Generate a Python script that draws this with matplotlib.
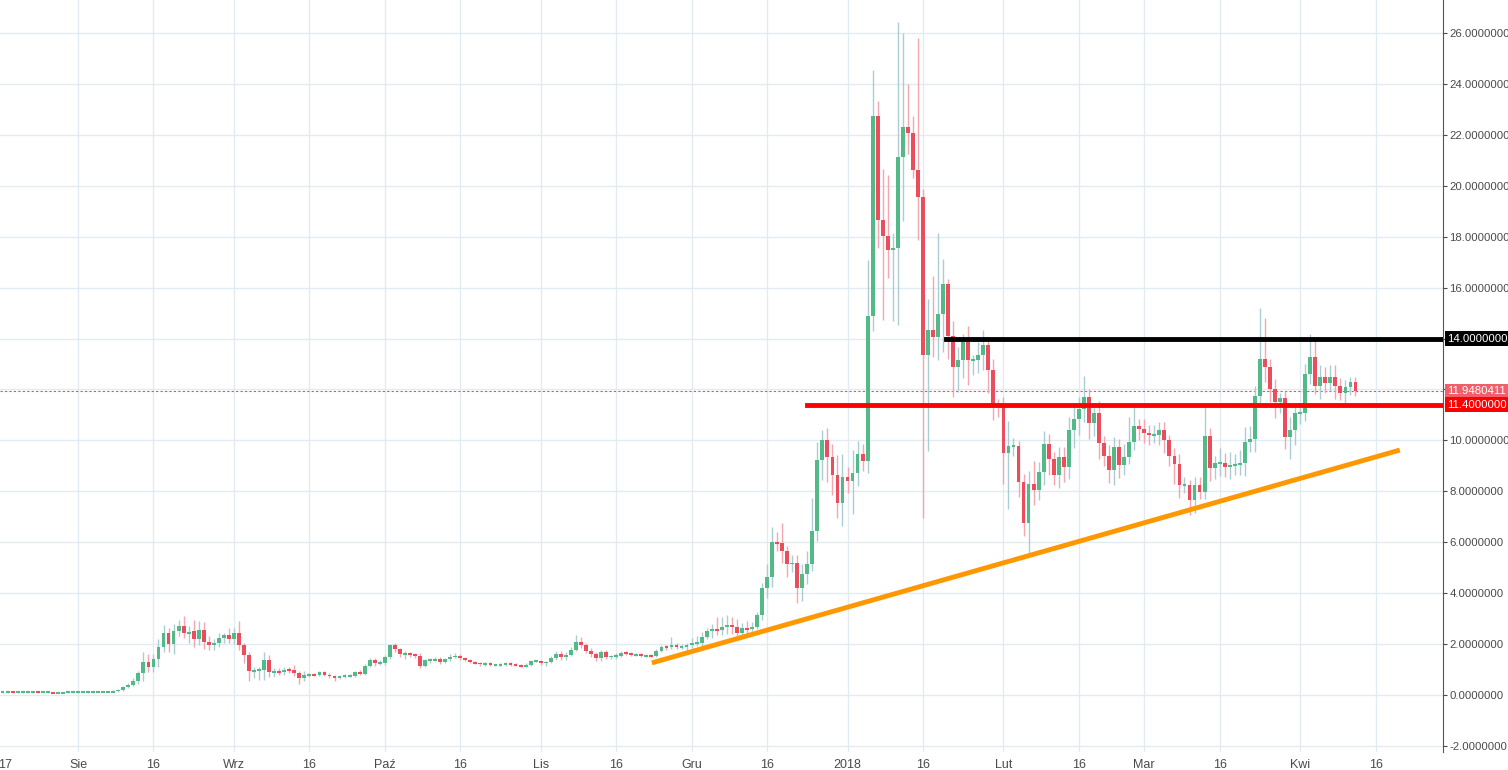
import matplotlib.pyplot as plt

plt.rcParams['font.family'] = ['Liberation Sans', 'DejaVu Sans']

# daily closes, day 0 = 2017-07-14
closes = [0.09, 0.1, 0.1, 0.1, 0.11, 0.1, 0.1, 0.1, 0.1, 0.11, 0.1, 0.1, 0.1, 0.09, 0.09,
          0.1, 0.1, 0.1, 0.1, 0.1, 0.1, 0.11, 0.12, 0.12, 0.13,
          0.15, 0.2, 0.3, 0.4, 0.55,
          0.86, 1.3, 1.1, 1.4, 1.9, 2.43, 2.0, 2.5, 2.7, 2.45, 2.5, 2.2, 2.55, 2.1, 1.95,
          2.05, 2.25, 2.35, 2.2, 2.45, 1.95,
          1.57, 0.95, 0.98, 1.0, 1.37, 0.9, 0.95, 0.9, 1.0, 0.98, 0.85, 0.65, 0.8, 0.8, 0.78,
          0.9, 0.8, 0.73, 0.66, 0.73, 0.76, 0.76, 0.9, 0.84, 1.15, 1.37, 1.24, 1.26, 1.48, 1.96,
          1.8, 1.6, 1.62, 1.6, 1.55, 1.15, 1.37, 1.37, 1.4, 1.3, 1.42, 1.5, 1.55, 1.44, 1.37,
          1.3, 1.26, 1.2, 1.24, 1.17, 1.17, 1.2, 1.24, 1.2, 1.17, 1.15, 1.19, 1.33, 1.33, 1.24,
          1.3, 1.44, 1.62, 1.48, 1.57, 1.77, 2.07, 1.96, 1.74, 1.6, 1.44, 1.67, 1.48, 1.53, 1.53,
          1.66, 1.63, 1.57, 1.6, 1.55, 1.55, 1.53, 1.72, 1.88, 1.87, 1.96, 1.9,
          1.9, 1.96, 2.03, 2.03, 2.29, 2.53, 2.58, 2.56, 2.68, 2.75, 2.68, 2.45, 2.62, 2.6, 2.68,
          3.14, 4.19, 4.65, 6.0, 5.95, 5.67, 5.13, 5.2, 4.21, 4.75, 5.15, 6.44, 9.23, 10.0, 9.36,
          8.64, 7.55, 8.57, 8.42, 8.71, 9.47, 9.2,
          14.89, 22.74, 18.66, 18.04, 17.48, 17.54, 21.12, 22.3, 22.06, 20.62, 19.57, 13.37,
          14.34, 14.07, 14.96, 16.14, 14.1, 12.9, 13.16, 13.88, 13.16, 13.16, 13.35, 13.75,
          12.78, 11.42, 11.4, 9.49, 9.78, 9.78, 8.38, 6.74, 8.28, 8.05, 8.75, 9.86, 9.26, 8.64, 9.36,
          8.97, 10.41, 10.83, 11.22, 11.72, 10.67, 11.06, 9.88, 9.4, 8.84, 9.75, 9.03, 9.36, 9.92,
          10.56, 10.43, 10.3, 10.2, 10.2, 10.41, 10.02, 9.39, 9.07, 8.25, 8.25, 7.65, 8.25, 7.99,
          10.17, 8.9, 9.1, 9.1, 8.97, 9.03, 9.05, 9.12, 9.94, 10.05, 11.75, 13.2, 12.9, 12.01,
          11.49, 11.65, 10.15, 10.41, 11.06, 11.06, 12.61, 13.29, 12.14, 12.48, 12.25, 12.48,
          12.14, 11.87, 12.08, 12.29, 11.948]

# upper / lower wick lengths beyond the body
wick_up = [0.02, 0.01, 0.02, 0.01, 0.02, 0.01, 0.02, 0.01, 0.02, 0.01, 0.02, 0.01,
           0.02, 0.01, 0.02, 0.01, 0.02, 0.01, 0.02, 0.01, 0.02, 0.01, 0.02, 0.02, 0.03,
           0.04, 0.05, 0.05, 0.08, 0.1,
           0.1, 0.4, 0.3, 0.2, 0.3, 0.3, 0.2, 0.3, 0.25, 0.4, 0.2, 0.45, 0.35, 0.3, 0.2,
           0.15, 0.2, 0.1, 0.3, 0.2, 0.45,
           0.1, 0.1, 0.1, 0.1, 0.3, 0.2, 0.1, 0.1, 0.1, 0.1, 0.2, 0.1, 0.15, 0.05, 0.05,
           0.05, 0.05, 0.05, 0.05, 0.05, 0.05, 0.05, 0.05, 0.1, 0.05, 0.1, 0.1, 0.1, 0.1, 0.05,
           0.1, 0.05, 0.1, 0.05, 0.05, 0.1, 0.05, 0.1, 0.1, 0.1, 0.05, 0.1, 0.1, 0.05, 0.05,
           0.05, 0.05, 0.05, 0.05, 0.05, 0.05, 0.05, 0.05, 0.05, 0.05, 0.05, 0.05, 0.05, 0.05, 0.05,
           0.05, 0.1, 0.1, 0.1, 0.1, 0.1, 0.3, 0.2, 0.1, 0.1, 0.1, 0.1, 0.1, 0.05, 0.1,
           0.05, 0.05, 0.05, 0.05, 0.05, 0.05, 0.05, 0.1, 0.1, 0.1, 0.3, 0.1,
           0.1, 0.1, 0.2, 0.3, 0.2, 0.1, 0.2, 0.5, 0.4, 0.4, 0.3, 0.3, 0.2, 0.3, 0.2,
           0.1, 0.2, 0.5, 0.6, 0.4, 0.8, 0.2, 0.3, 0.3, 0.4, 0.5, 1.3, 0.7, 0.4, 0.5,
           0.5, 0.8, 0.9, 0.4, 0.9, 0.5, 0.4,
           2.2, 1.8, 0.6, 2.0, 2.4, 0.6, 5.3, 3.7, 1.7, 0.7, 5.2, 0.3,
           1.2, 2.1, 3.2, 1.0, 0.2, 0.6, 0.5, 0.3, 0.6, 0.2, 0.5, 0.6,
           0.3, 0.4, 0.2, 0.3, 1.0, 0.3, 0.2, 0.3, 0.5, 0.9, 0.4, 0.5, 0.4, 0.3, 0.4,
           0.4, 0.5, 0.6, 0.5, 0.8, 0.3, 0.4, 0.5, 0.3, 0.4, 0.4, 0.3, 0.5, 1.0,
           0.9, 0.3, 0.4, 0.3, 0.4, 0.3, 0.3, 0.2, 0.3, 0.4, 0.3, 0.2, 0.3, 0.3,
           1.3, 0.3, 0.3, 0.6, 0.4, 0.5, 0.4, 0.5, 0.6, 0.5, 0.4, 2.0, 1.6, 0.3,
           0.4, 0.2, 0.3, 0.5, 0.3, 0.3, 0.4, 0.9, 0.6, 0.5, 0.4, 0.5,
           0.5, 0.3, 0.3, 0.2, 0.2]
wick_dn = [0.01, 0.02, 0.01, 0.02, 0.01, 0.02, 0.01, 0.02, 0.01, 0.02, 0.01, 0.02,
           0.01, 0.02, 0.01, 0.02, 0.01, 0.02, 0.01, 0.02, 0.01, 0.02, 0.01, 0.01, 0.02,
           0.02, 0.03, 0.03, 0.04, 0.05,
           0.1, 0.3, 0.2, 0.2, 0.3, 0.2, 0.3, 0.4, 0.2, 0.2, 0.4, 0.3, 0.25, 0.3, 0.2,
           0.2, 0.15, 0.2, 0.15, 0.2, 0.2,
           0.3, 0.4, 0.3, 0.4, 0.4, 0.2, 0.2, 0.1, 0.1, 0.1, 0.1, 0.2, 0.1, 0.1, 0.05,
           0.05, 0.05, 0.05, 0.1, 0.05, 0.05, 0.05, 0.05, 0.05, 0.05, 0.05, 0.1, 0.05, 0.1, 0.05,
           0.1, 0.1, 0.2, 0.1, 0.1, 0.1, 0.05, 0.1, 0.05, 0.1, 0.05, 0.1, 0.05, 0.05, 0.05,
           0.05, 0.05, 0.05, 0.05, 0.05, 0.05, 0.05, 0.05, 0.05, 0.05, 0.05, 0.05, 0.05, 0.05, 0.05,
           0.1, 0.05, 0.05, 0.1, 0.1, 0.05, 0.05, 0.1, 0.1, 0.1, 0.1, 0.1, 0.05, 0.05, 0.1,
           0.05, 0.05, 0.05, 0.05, 0.05, 0.05, 0.05, 0.05, 0.05, 0.1, 0.05, 0.1,
           0.1, 0.2, 0.1, 0.1, 0.1, 0.1, 0.3, 0.2, 0.2, 0.3, 0.3, 0.2, 0.2, 0.2, 0.1,
           0.1, 0.2, 0.4, 0.4, 0.3, 0.5, 0.5, 0.3, 0.6, 0.5, 0.4, 0.3, 0.4, 0.8, 1.0,
           0.8, 0.6, 0.9, 0.5, 1.3, 0.5, 0.4,
           0.5, 0.6, 1.1, 3.3, 1.1, 2.8, 3.0, 2.5, 0.8, 0.3, 1.7, 6.4,
           3.8, 0.8, 0.9, 1.5, 0.9, 1.2, 1.0, 0.7, 1.0, 0.6, 0.5, 0.6,
           0.9, 0.6, 0.5, 1.2, 2.2, 0.4, 0.6, 0.5, 1.2, 0.6, 0.4, 0.5, 0.6, 0.4, 0.5,
           0.6, 0.5, 0.7, 0.6, 0.5, 0.6, 0.5, 0.6, 0.4, 0.5, 0.6, 0.5, 0.4, 0.3,
           0.3, 0.4, 0.4, 0.4, 0.3, 0.4, 0.5, 0.4, 0.8, 0.5, 0.3, 0.6, 0.5, 0.3,
           0.3, 0.5, 0.4, 0.5, 0.4, 0.5, 0.4, 0.4, 0.5, 0.4, 0.5, 0.3, 0.6, 0.5,
           0.6, 0.4, 0.5, 0.9, 0.6, 0.4, 0.3, 0.4, 0.3, 0.5, 0.4, 0.3,
           0.5, 0.3, 0.4, 0.3, 0.2]

# x-axis ticks (day index) and labels
tick_days = [3.5, 18, 33, 49, 64, 79, 94, 110, 125, 140, 155, 171, 186, 202, 217, 230, 245, 261, 276]
tick_labels = ['17', 'Sie', '16', 'Wrz', '16', 'Paź', '16', 'Lis', '16', 'Gru', '16', '2018',
               '16', 'Lut', '16', 'Mar', '16', 'Kwi', '16']
y_ticks = [-2, 0, 2, 4, 6, 8, 10, 12, 14, 16, 18, 20, 22, 24, 26]

resistance = 14.0
support = 11.4
last_price = 11.9480411
res_start, sup_start = 190.5, 163
trend_days = [132.1, 280.8]
trend_vals = [1.26, 9.62]

UP, DOWN = '#53b987', '#eb4d5c'
UP_W, DOWN_W = '#a9cdd3', '#f5a6ae'

fig = plt.figure(figsize=(15.08, 7.70), dpi=100)
ax = fig.add_axes([0, 0.0234, 1443 / 1508, 0.9766])
ax.set_xlim(2.49, 289.4)
ax.set_ylim(-2.24, 27.3)

for t in tick_days[1:]:
    ax.axvline(t, color='#e1ecf2', lw=1, zorder=0)
for v in y_ticks:
    ax.axhline(v, color='#e1ecf2', lw=1, zorder=0)

prev = closes[0]
for i, c in enumerate(closes):
    o = prev
    hi = max(o, c) + wick_up[i]
    lo = min(o, c) - wick_dn[i]
    up = c >= o
    ax.vlines(i, lo, hi, color=UP_W if up else DOWN_W, lw=1, zorder=2)
    h = abs(c - o)
    if h < 0.05:
        ax.hlines(min(o, c), i - 0.38, i + 0.38, color=UP if up else DOWN, lw=1.5, zorder=3)
    else:
        ax.bar(i, h, bottom=min(o, c), width=0.76, color=UP if up else DOWN, lw=0, zorder=3)
    prev = c

ax.axhline(last_price, color=DOWN, lw=0.8, ls=(0, (2, 2)), zorder=1)
ax.plot([res_start, 289.4], [resistance] * 2, color='black', lw=3.5, zorder=4)
ax.plot([sup_start, 289.4], [support] * 2, color='#ff0000', lw=3.5, zorder=4)
ax.plot(trend_days, trend_vals, color='#ff9800', lw=3.5, zorder=4, solid_capstyle='butt')

ax.set_xticks(tick_days)
ax.set_xticklabels(tick_labels)
ax.tick_params(axis='x', length=0, pad=5, labelsize=9, colors='#4a4a4a')
ax.yaxis.tick_right()
ax.set_yticks(y_ticks)
# the 12 label sits under the last-price tag, as in the reference
ax.set_yticklabels(['' if v == 12 else '%.7f' % v for v in y_ticks])
ax.tick_params(axis='y', length=3, pad=1.5, labelsize=8.2, colors='#4a4a4a')
for s in ['top', 'left', 'bottom']:
    ax.spines[s].set_visible(False)
ax.spines['right'].set_color('#555555')

for val, col in [(resistance, 'black'), (last_price, '#f0606c'), (support, '#ff0000')]:
    ax.annotate('%.7f' % val, xy=(1, val), xycoords=('axes fraction', 'data'), xytext=(3, 0),
                textcoords='offset points', va='center', ha='left', fontsize=8.2,
                color='white', annotation_clip=False,
                bbox=dict(boxstyle='square,pad=0.2', fc=col, ec='none'))

fig.savefig('out.png', dpi=100)
